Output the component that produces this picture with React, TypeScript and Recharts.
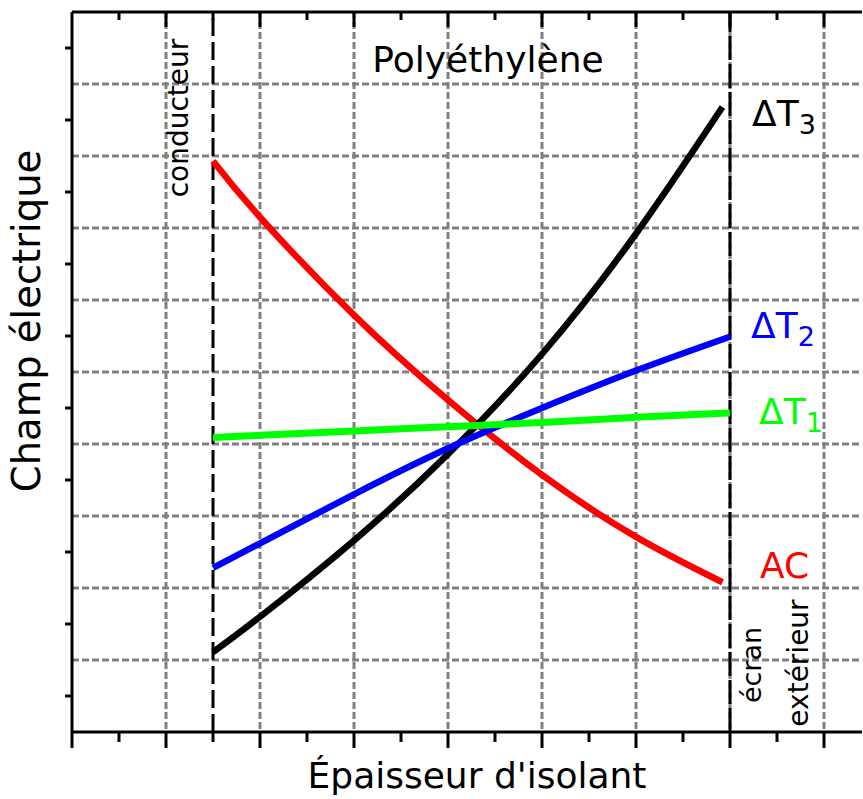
import { CartesianGrid, Line, LineChart, ReferenceLine, XAxis, YAxis } from "recharts";

// thickness positions (grid units), shared by AC and ΔT3
const hotX = [1.5, 2, 3, 4, 5, 6, 6.92];
const acField = [7.93, 7.15, 5.79, 4.61, 3.57, 2.71, 2.08];
const dt3Field = [1.11, 1.6, 2.66, 3.86, 5.25, 6.92, 8.68];

// ΔT2 and ΔT1 run to the outer screen
const coolX = [1.5, 2, 3, 4, 5, 6, 7];
const dt2Field = [2.28, 2.62, 3.3, 3.94, 4.5, 5.02, 5.49];
const dt1Field = [4.09, 4.12, 4.18, 4.24, 4.3, 4.37, 4.43];

const conductorAt = 1.5;
const screenAt = 7;

const bottomTicks = [0, 0.5, 1, 1.5, 2, 2.5, 3, 3.5, 4, 4.5, 5, 5.5, 6, 6.5, 7, 7.5, 8];
const topTicks = [0.5, 1, 1.5, 2, 2.5, 3, 3.5, 4, 4.5, 5, 5.5, 6, 6.5, 7, 7.5, 8];
const leftTicks = [0.5, 1.5, 2.5, 3.5, 4.5, 5.5, 6.5, 7.5, 8.5, 9.5];
const gridX = [1, 2, 3, 4, 5, 6, 7, 8];
const gridY = [1, 2, 3, 4, 5, 6, 7, 8, 9];

const X_MAX = 790 / 94;
const FONT = "DejaVu Sans";

const toPoints = (xs: number[], ys: number[]) => xs.map((x, i) => ({ x, y: ys[i] }));

const series = [
  { name: "AC", color: "#ff0000", data: toPoints(hotX, acField), width: 6.5 },
  { name: "dt3", color: "#000000", data: toPoints(hotX, dt3Field), width: 6.5 },
  { name: "dt2", color: "#0000ff", data: toPoints(coolX, dt2Field), width: 6.5 },
  { name: "dt1", color: "#00ff00", data: toPoints(coolX, dt1Field), width: 7 },
];

function BottomTick(props: any) {
  const { x, y, payload } = props;
  const len = Number.isInteger(payload.value) ? 16 : 10;
  return <line x1={x} x2={x} y1={y} y2={y + len} stroke="#000" strokeWidth={3} />;
}

function TopTick(props: any) {
  const { x, y, payload } = props;
  const len = Number.isInteger(payload.value) ? 15 : 8;
  return <line x1={x} x2={x} y1={y} y2={y + len} stroke="#000" strokeWidth={3} />;
}

function LeftTick(props: any) {
  const { x, y } = props;
  return <line x1={x - 7} x2={x} y1={y} y2={y} stroke="#000" strokeWidth={3} />;
}

function RightTick(props: any) {
  const { x, y } = props;
  return <line x1={x - 3} x2={x} y1={y} y2={y} stroke="#000" strokeWidth={3} />;
}

function DeltaT({ x, y, n, color }: { x: number; y: number; n: string; color: string }) {
  return (
    <text x={x} y={y} fill={color} fontSize={36} fontFamily={FONT}>
      ΔT
      <tspan fontSize={27} dy={8}>
        {n}
      </tspan>
    </text>
  );
}

export default function App() {
  return (
    <div style={{ position: "absolute", left: 0, top: 0, width: 863, height: 799, background: "#fff" }}>
      <LineChart width={863} height={799} margin={{ top: 11, right: 0, bottom: 66, left: 71 }}>
        <CartesianGrid
          xAxisId="b"
          yAxisId="l"
          stroke="#808080"
          strokeWidth={3}
          strokeDasharray="7 3"
          verticalValues={gridX}
          horizontalValues={gridY}
        />
        <XAxis
          xAxisId="b"
          type="number"
          dataKey="x"
          domain={[0, X_MAX]}
          ticks={bottomTicks}
          interval={0}
          height={1}
          tickSize={0}
          tickMargin={0}
          tick={BottomTick}
          tickLine={false}
          axisLine={{ stroke: "#000", strokeWidth: 3 }}
          allowDataOverflow
        />
        <XAxis
          xAxisId="t"
          orientation="top"
          type="number"
          dataKey="x"
          domain={[0, X_MAX]}
          ticks={topTicks}
          interval={0}
          height={1}
          tickSize={0}
          tickMargin={0}
          tick={TopTick}
          tickLine={false}
          axisLine={{ stroke: "#000", strokeWidth: 3 }}
          allowDataOverflow
        />
        <YAxis
          yAxisId="l"
          type="number"
          domain={[0, 10]}
          ticks={leftTicks}
          interval={0}
          width={1}
          tickSize={0}
          tickMargin={0}
          tick={LeftTick}
          tickLine={false}
          axisLine={{ stroke: "#000", strokeWidth: 3 }}
          allowDataOverflow
        />
        <YAxis
          yAxisId="r"
          orientation="right"
          type="number"
          domain={[0, 10]}
          ticks={gridY}
          interval={0}
          width={1}
          tickSize={0}
          tickMargin={0}
          tick={RightTick}
          tickLine={false}
          axisLine={false}
        />
        <ReferenceLine
          xAxisId="b"
          yAxisId="l"
          x={conductorAt}
          stroke="#000"
          strokeWidth={3}
          strokeDasharray="18 6"
        />
        <ReferenceLine
          xAxisId="b"
          yAxisId="l"
          x={screenAt}
          stroke="#000"
          strokeWidth={3}
          strokeDasharray="24 4"
        />
        {series.map((s) => (
          <Line
            key={s.name}
            xAxisId="b"
            yAxisId="l"
            data={s.data}
            dataKey="y"
            type="natural"
            stroke={s.color}
            strokeWidth={s.width}
            dot={false}
            activeDot={false}
            isAnimationActive={false}
          />
        ))}
      </LineChart>

      <svg
        width={863}
        height={799}
        style={{ position: "absolute", left: 0, top: 0, pointerEvents: "none" }}
      >
        <text x={488} y={72} textAnchor="middle" fontSize={36} fontFamily={FONT}>
          Polyéthylène
        </text>
        <text x={477} y={788} textAnchor="middle" fontSize={36} fontFamily={FONT}>
          Épaisseur d'isolant
        </text>
        <text x={40} y={321} transform="rotate(-90 40 321)" textAnchor="middle" fontSize={38.5} fontFamily={FONT}>
          Champ électrique
        </text>
        <text x={188} y={118} transform="rotate(-90 188 118)" textAnchor="middle" fontSize={28} fontFamily={FONT}>
          conducteur
        </text>
        <text x={761} y={665} transform="rotate(-90 761 665)" textAnchor="middle" fontSize={27} fontFamily={FONT}>
          écran
        </text>
        <text x={808} y={663} transform="rotate(-90 808 663)" textAnchor="middle" fontSize={28} fontFamily={FONT}>
          extérieur
        </text>
        <DeltaT x={752} y={126} n="3" color="#000000" />
        <DeltaT x={751} y={338} n="2" color="#0000ff" />
        <DeltaT x={759} y={424} n="1" color="#00ff00" />
        <text x={760} y={578} fill="#ff0000" fontSize={36} fontFamily={FONT}>
          AC
        </text>
      </svg>
    </div>
  );
}
